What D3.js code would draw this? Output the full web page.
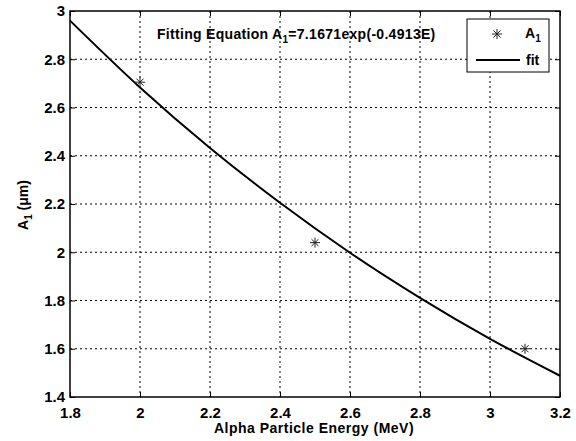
<!DOCTYPE html>
<html>
<head>
<meta charset="utf-8">
<script src="https://cdn.jsdelivr.net/npm/d3@7"></script>
<style>
body { margin: 0; background: #fff; }
text { font-family: Arial, "Liberation Sans", sans-serif; font-weight: bold; }
</style>
</head>
<body>
<script>
// measured points
var energy = [2.0, 2.5, 3.1];
var a1 = [2.705, 2.04, 1.6];

// fit line
var fitE = [1.8, 2.0, 2.2, 2.4, 2.6, 2.8, 3.0, 3.2];
var fitA = [2.96, 2.683, 2.432, 2.205, 1.998, 1.811, 1.641, 1.488];

var xTicks = [1.8, 2, 2.2, 2.4, 2.6, 2.8, 3, 3.2];
var yTicks = [1.4, 1.6, 1.8, 2, 2.2, 2.4, 2.6, 2.8, 3];

var svg = d3.select("body").append("svg")
  .attr("width", 576)
  .attr("height", 441);

// plot box (note: "top" is taken by window.top)
var pL = 70, pR = 560, pT = 11, pB = 397;

var x = d3.scaleLinear().domain([1.8, 3.2]).range([pL, pR]);
var y = d3.scaleLinear().domain([1.4, 3]).range([pB, pT]);

// grid
svg.append("g").selectAll("line")
  .data(xTicks.slice(1, -1))
  .enter().append("line")
  .attr("x1", d => x(d)).attr("x2", d => x(d))
  .attr("y1", pT).attr("y2", pB)
  .attr("stroke", "#000").attr("stroke-width", 1)
  .attr("stroke-dasharray", "2,3");

svg.append("g").selectAll("line")
  .data(yTicks.slice(1, -1))
  .enter().append("line")
  .attr("x1", pL).attr("x2", pR)
  .attr("y1", d => y(d)).attr("y2", d => y(d))
  .attr("stroke", "#000").attr("stroke-width", 1)
  .attr("stroke-dasharray", "2,3");

// axes (ticks inward)
var xAxis = svg.append("g")
  .attr("transform", "translate(0," + pB + ")")
  .call(d3.axisBottom(x).tickValues(xTicks).tickSize(-5).tickFormat(d3.format("")));
var xTop = svg.append("g")
  .attr("transform", "translate(0," + pT + ")")
  .call(d3.axisTop(x).tickValues(xTicks).tickSize(-5).tickFormat(""));
var yAxis = svg.append("g")
  .attr("transform", "translate(" + pL + ",0)")
  .call(d3.axisLeft(y).tickValues(yTicks).tickSize(-5).tickPadding(5).tickFormat(d3.format("")));
var yRight = svg.append("g")
  .attr("transform", "translate(" + pR + ",0)")
  .call(d3.axisRight(y).tickValues(yTicks).tickSize(-5).tickFormat(""));

[xAxis, xTop, yAxis, yRight].forEach(function(g) {
  g.select(".domain").remove();
  g.selectAll("line").attr("stroke", "#000");
  g.selectAll("text").attr("fill", "#000")
    .style("font-size", "15px").style("font-weight", "bold")
    .style("font-family", "Arial, 'Liberation Sans', sans-serif");
});
xAxis.selectAll("text").attr("y", 21).attr("dy", null);

svg.append("rect")
  .attr("x", pL).attr("y", pT)
  .attr("width", pR - pL).attr("height", pB - pT)
  .attr("fill", "none").attr("stroke", "#000").attr("stroke-width", 1.5);

// fit line
var fitData = fitE.map((e, i) => [e, fitA[i]]);
svg.append("path")
  .datum(fitData)
  .attr("d", d3.line().curve(d3.curveMonotoneX).x(d => x(d[0])).y(d => y(d[1])))
  .attr("fill", "none").attr("stroke", "#000").attr("stroke-width", 2);

// asterisk marker
function star(g, cx, cy, r) {
  var s = g.append("g").attr("transform", "translate(" + cx + "," + cy + ")");
  [0, 45, 90, 135].forEach(function(a) {
    var rad = a * Math.PI / 180;
    s.append("line")
      .attr("x1", -r * Math.cos(rad)).attr("y1", -r * Math.sin(rad))
      .attr("x2", r * Math.cos(rad)).attr("y2", r * Math.sin(rad))
      .attr("stroke", "#222").attr("stroke-width", 1);
  });
}

energy.forEach(function(e, i) {
  star(svg, x(e), y(a1[i]), 5);
});

// title
var title = svg.append("text")
  .attr("x", 157).attr("y", 39)
  .style("font-size", "14px")
  .style("letter-spacing", "0.3px");
title.append("tspan").text("Fitting Equation A");
title.append("tspan").attr("dy", 4).style("font-size", "10px").text("1");
title.append("tspan").attr("dy", -4).text("=7.1671exp(-0.4913E)");

// legend
svg.append("rect")
  .attr("x", 467).attr("y", 19)
  .attr("width", 82).attr("height", 53)
  .attr("fill", "#fff").attr("stroke", "#000").attr("stroke-width", 1);
star(svg, 497, 34, 5);
var lt = svg.append("text").attr("x", 525).attr("y", 38).style("font-size", "14px");
lt.append("tspan").text("A");
lt.append("tspan").attr("dy", 4).style("font-size", "10px").text("1");
svg.append("line")
  .attr("x1", 476).attr("x2", 520).attr("y1", 60).attr("y2", 60)
  .attr("stroke", "#000").attr("stroke-width", 2);
svg.append("text").attr("x", 526).attr("y", 65).style("font-size", "14px").text("fit");

// axis labels
svg.append("text")
  .attr("x", 314).attr("y", 433)
  .attr("text-anchor", "middle")
  .style("font-size", "14px")
  .style("letter-spacing", "0.5px")
  .text("Alpha Particle Energy (MeV)");

var yl = svg.append("text")
  .attr("transform", "translate(28,205) rotate(-90)")
  .attr("text-anchor", "middle")
  .style("font-size", "14px");
yl.append("tspan").text("A");
yl.append("tspan").attr("dy", 4).style("font-size", "10px").text("1");
yl.append("tspan").attr("dy", -4).text(" (\u03bcm)");
</script>
</body>
</html>
